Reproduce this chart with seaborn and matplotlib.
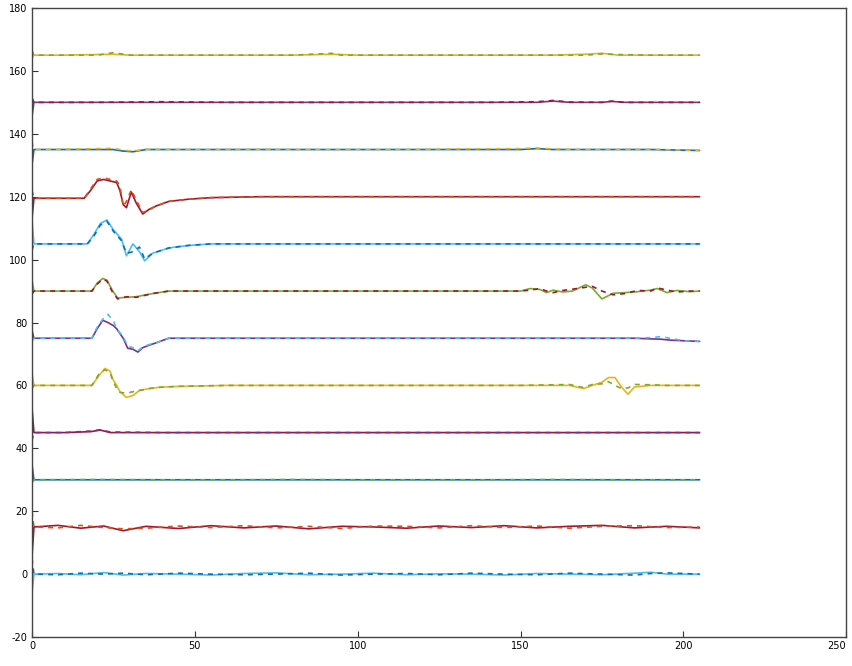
import matplotlib
matplotlib.use("Agg")
import matplotlib.pyplot as plt
import seaborn as sns
import pandas as pd

# Stacked multichannel traces: each channel shows a measured (A) and an
# estimated (B) signal, as deviations around the channel's vertical offset.
offsets = [0, 15, 30, 45, 60, 75, 90, 105, 120, 135, 150, 165]

ch0_x = [0, 0.6, 8, 15, 22, 28, 35, 45, 55, 65, 75, 85, 95, 105, 115, 125, 135, 145, 155, 165, 175, 185, 190, 195, 205]
ch0_a = [-6, 0, 0.2, -0.2, 0.5, -0.3, 0.2, 0, -0.3, 0.2, 0.4, -0.2, 0, 0.3, -0.2, 0.1, 0, -0.3, 0.2, 0, -0.2, 0.3, 0.6, 0, 0]
ch0_b = [5, 0, -0.2, 0.3, 0, 0.3, -0.2, 0.3, 0, -0.2, 0, 0.3, -0.3, 0, 0.2, -0.2, 0.3, 0, -0.2, 0.3, 0, -0.3, 0.2, 0.4, 0]

ch15_x = [0, 0.6, 8, 15, 22, 28, 35, 45, 55, 65, 75, 85, 95, 105, 115, 125, 135, 145, 155, 165, 175, 185, 195, 205]
ch15_a = [-9.6, 0, 0.5, -0.4, 0.3, -1.2, 0.2, -0.5, 0.4, -0.3, 0.3, -0.6, 0.2, 0, -0.4, 0.3, -0.2, 0.4, -0.3, 0.2, 0.5, -0.3, 0.2, -0.3]
ch15_b = [5, 0, -0.3, 0.5, -0.2, -0.6, -0.4, 0.3, -0.2, 0.4, -0.3, 0.2, -0.5, 0.3, 0.2, -0.3, 0.4, -0.2, 0.3, -0.4, 0.2, 0.4, -0.2, 0]

ch30_x = [0, 0.6, 20, 40, 60, 80, 100, 120, 140, 160, 180, 205]
ch30_a = [5, 0, 0, 0, 0, 0, 0, 0, 0, 0, 0, 0]
ch30_b = [-1, 0, 0.1, 0, 0, 0.1, 0, 0, 0, 0.1, 0, 0]

ch45_x = [0, 0.6, 10, 18, 21, 24, 40, 60, 80, 100, 120, 140, 160, 180, 205]
ch45_a = [8, 0, 0, 0.3, 0.8, 0, 0, 0, 0, 0, 0, 0, 0, 0, 0]
ch45_b = [-2.5, 0, 0, 0.5, 0.9, 0.2, 0, 0, 0, 0, 0, 0, 0, 0, 0]

ch60_x = [0, 0.6, 10, 18.4, 20.5, 22.4, 24, 24.8, 26, 27, 29, 31, 33, 36, 39, 45, 60, 150, 165, 169.4, 172, 175, 177, 179, 181, 183, 185, 190, 195, 200, 205]
ch60_a = [4, 0, 0, 0, 3, 5.4, 4.5, 2, 0, -2, -3.8, -3.2, -1.6, -1, -0.6, -0.3, 0, 0, 0, -1, 0, 1, 2.5, 2.5, -0.5, -2.8, -0.5, 0, 0, 0, 0]
ch60_b = [-1, 0, 0, 0, 3.5, 5, 4, 1.6, -1, -2.2, -2.5, -2, -1.6, -1, -0.6, -0.3, 0, 0, 0.3, -0.7, 0.3, 0.5, 1.2, 0, -1, -0.8, 0.3, 0.2, 0, 0, 0]

ch75_x = [0, 0.6, 10, 18.4, 20, 21.7, 23.3, 25, 26, 28, 29.4, 31, 32.5, 34, 36, 38, 42, 50, 60, 185, 190, 193, 196, 200, 205]
ch75_a = [2.5, 0, 0, 0, 3, 5.7, 5, 4, 3, 0, -3.2, -3.5, -4.4, -3, -2.2, -1.5, 0, 0, 0, 0, -0.2, -0.3, -0.6, -0.8, -1]
ch75_b = [-1, 0, 0, 0, 3.5, 6, 7.6, 5.5, 3, 0.5, -2.5, -3, -4, -2.8, -2, -1.5, 0, 0, 0, 0, 0.2, 0.5, 0, -0.8, -1]

ch90_x = [0, 0.6, 10, 18.4, 20, 21.7, 23, 24.8, 26.3, 29, 32, 37, 42, 60, 100, 150, 153, 156, 158, 160, 163, 166, 170, 172, 175, 178.5, 182, 186, 190, 192, 195, 198, 202, 205]
ch90_a = [3.5, 0, 0, 0, 2.5, 4, 3.5, 0, -2.2, -2, -1.8, -0.8, 0, 0, 0, 0, 0.8, 0.5, -0.5, 0.3, -0.3, 0, 2, 1, -2.5, -0.7, -0.5, -0.2, 0.3, 0.8, -0.5, 0.2, -0.2, 0]
ch90_b = [-1, 0, 0, 0, 2.2, 3.8, 3.2, -0.5, -2.5, -1.8, -2.0, -0.8, 0, 0, 0, 0, 0.3, 0.8, 0, -0.5, 0.2, 0.6, 1.2, 1.5, 0, -1.2, -0.8, 0.2, 0, 1, 0.3, -0.3, 0, 0]

ch105_x = [0, 0.6, 10, 17, 19, 21, 23, 25, 27.5, 29, 31, 33, 34.6, 37, 42, 48, 55, 70, 205]
ch105_a = [7.5, 0, 0, 0, 3, 6.5, 7.6, 4.5, 1.5, -3.8, 0, -2.5, -5.4, -3, -1.3, -0.5, 0, 0, 0]
ch105_b = [-2, 0, 0, 0, 2.5, 6, 7.2, 4, 1, -3, -2.5, -1, -4.8, -3, -1.3, -0.5, 0, 0, 0]

ch120_x = [0, 0.6, 10, 16, 18, 20, 22, 24, 26, 27, 28, 29, 30.5, 32, 34, 36, 38, 42, 48, 55, 70, 100, 150, 205]
ch120_a = [-7, -0.5, -0.5, -0.5, 2, 5, 5.5, 5, 4.5, 2, -2.5, -3.5, 1.5, -2, -5.5, -4, -3, -1.5, -0.8, -0.3, 0, 0, 0, 0]
ch120_b = [2, -0.5, -0.5, -0.5, 2.5, 5.5, 6, 5.5, 5, 3.5, -3, -1.5, 2.2, -1, -5, -4.2, -3, -1.5, -0.8, -0.3, 0, 0, 0, 0]

ch135_x = [0, 0.6, 15, 25, 28, 31, 35, 50, 70, 90, 110, 130, 150, 155, 160, 170, 190, 205]
ch135_a = [-5, 0, 0, 0, -0.5, -0.7, 0, 0, 0, 0, 0, 0, 0, 0.3, 0, 0, 0, -0.3]
ch135_b = [2.5, 0, 0.2, 0.4, -0.2, -0.5, 0.1, 0, 0.1, 0, 0, 0.2, 0.3, 0.5, 0.2, 0, 0.1, -0.3]

ch150_x = [0, 0.6, 20, 40, 60, 80, 100, 120, 140, 155, 160, 165, 175, 178, 182, 205]
ch150_a = [-4.5, 0, 0, 0, 0, 0, 0, 0, 0, 0, 0.4, 0, 0, 0.3, 0, 0]
ch150_b = [1.5, 0, 0, 0.2, 0, 0, 0, 0, 0, 0.2, 0.6, 0.1, 0, 0.4, 0, 0]

ch165_x = [0, 0.6, 10, 20, 25, 30, 40, 60, 80, 92, 95, 100, 120, 140, 160, 170, 175, 180, 190, 205]
ch165_a = [-1, 0, 0, 0.2, 0.3, 0, 0, 0, 0, 0.3, 0.2, 0, 0, 0, 0, 0.3, 0.6, 0, 0, 0]
ch165_b = [1.5, 0, 0, 0, 0.8, 0, 0, 0, 0, 0.6, 0, 0, 0, 0, 0, 0, 0.4, 0.2, 0, 0]

# MATLAB-style line colours
BLUE, ORANGE, YELLOW, PURPLE = "#0072BD", "#D95319", "#EDB120", "#7E2F8E"
GREEN, LBLUE, RED = "#77AC30", "#4DBEEE", "#A2142F"

channels = [
    (ch0_x, ch0_a, ch0_b, LBLUE, BLUE),
    (ch15_x, ch15_a, ch15_b, RED, ORANGE),
    (ch30_x, ch30_a, ch30_b, BLUE, GREEN),
    (ch45_x, ch45_a, ch45_b, RED, PURPLE),
    (ch60_x, ch60_a, ch60_b, YELLOW, GREEN),
    (ch75_x, ch75_a, ch75_b, PURPLE, LBLUE),
    (ch90_x, ch90_a, ch90_b, GREEN, RED),
    (ch105_x, ch105_a, ch105_b, LBLUE, BLUE),
    (ch120_x, ch120_a, ch120_b, RED, ORANGE),
    (ch135_x, ch135_a, ch135_b, BLUE, YELLOW),
    (ch150_x, ch150_a, ch150_b, PURPLE, RED),
    (ch165_x, ch165_a, ch165_b, YELLOW, GREEN),
]

x_ticks = [0, 50, 100, 150, 200, 250]
y_ticks = [-20, 0, 20, 40, 60, 80, 100, 120, 140, 160, 180]

sns.set_theme(style="white")
plt.rcParams["font.family"] = ["DejaVu Sans"]

fig = plt.figure(figsize=(8.53, 6.66), dpi=100)
ax = fig.add_axes([0.0375, 0.0435, 0.9545, 0.9445])

for (xs, a, b, col_a, col_b), off in zip(channels, offsets):
    df = pd.DataFrame({"t": xs, "a": [v + off for v in a], "b": [v + off for v in b]})
    sns.lineplot(data=df, x="t", y="a", ax=ax, color=col_a, lw=1.2,
                 estimator=None, sort=False)
    sns.lineplot(data=df, x="t", y="b", ax=ax, color=col_b, lw=1.2,
                 estimator=None, sort=False, linestyle=(0, (3, 3)))

ax.set_xlim(0, 250)
ax.set_ylim(-20, 180)
ax.set_xticks(x_ticks)
ax.set_yticks(y_ticks)
ax.set_xticklabels([str(v) for v in x_ticks])
ax.set_yticklabels([str(v) for v in y_ticks])
# keep the last x label inside the figure edge
ax.get_xticklabels()[-1].set_horizontalalignment("right")
ax.set_xlabel("")
ax.set_ylabel("")
ax.tick_params(direction="in", length=4, width=0.8, labelsize=7,
               colors="#333333", labelcolor="black", pad=3,
               bottom=True, left=True, top=False, right=False)
for s in ax.spines.values():
    s.set_color("#444444")
    s.set_linewidth(1.0)

fig.savefig("out.png", dpi=100)
